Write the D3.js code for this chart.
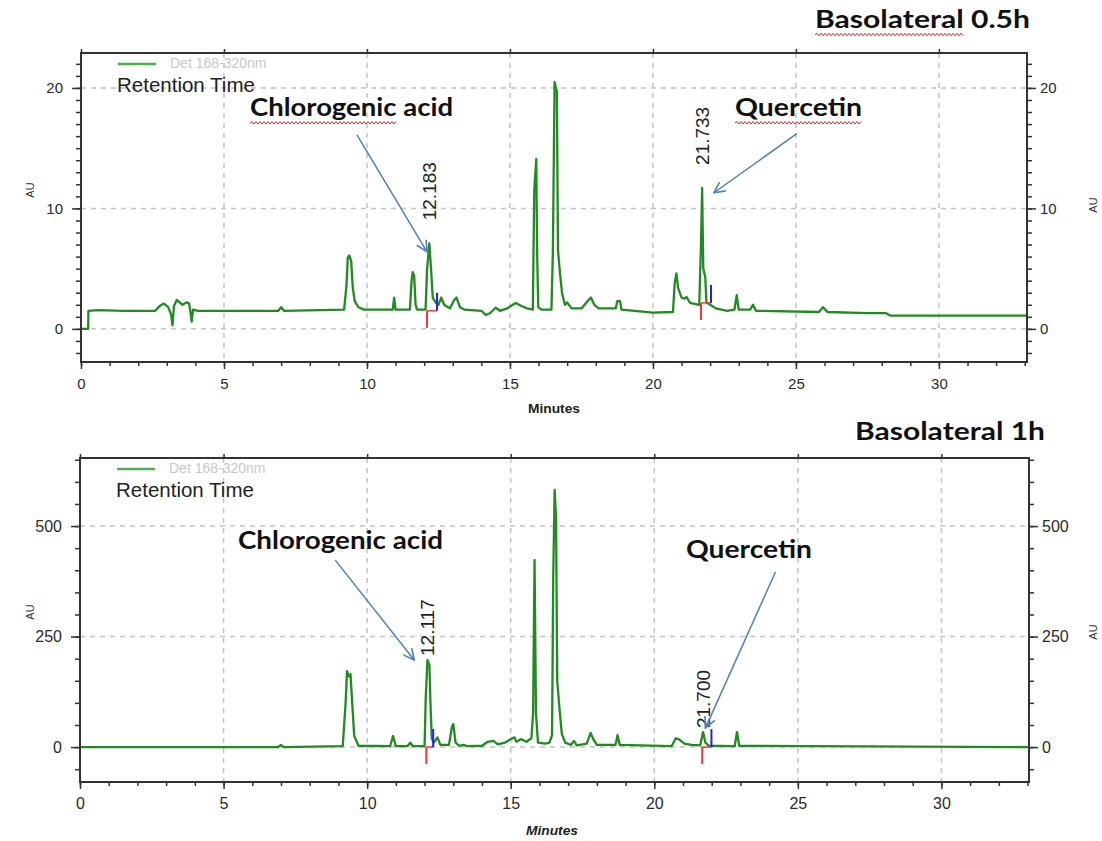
<!DOCTYPE html>
<html>
<head>
<meta charset="utf-8">
<script src="https://cdn.jsdelivr.net/npm/d3@7"></script>
<style>
  body { margin: 0; background: #fff; }
  svg { display: block; }
</style>
</head>
<body>
<script>
// chromatogram traces, [minutes, AU]
const trace05 = [
  [0.00, 0.0], [0.25, 0.0], [0.26, 1.5], [0.6, 1.55], [1.5, 1.5], [2.6, 1.5], [2.75, 1.9], [2.9, 2.1],
  [3.05, 1.8], [3.15, 1.2], [3.2, 0.3], [3.25, 1.9], [3.35, 2.4], [3.45, 2.2], [3.55, 2.0], [3.7, 2.2],
  [3.78, 2.1], [3.84, 1.2], [3.87, 0.6], [3.92, 1.6], [4.1, 1.5], [6.9, 1.5], [7.0, 1.8], [7.1, 1.5],
  [9.2, 1.6], [9.28, 3.5], [9.33, 5.9], [9.38, 6.1], [9.45, 5.6], [9.5, 3.5], [9.57, 2.3], [9.7, 1.8],
  [9.9, 1.6], [10.9, 1.6], [10.95, 2.6], [11.0, 1.6], [11.5, 1.6], [11.56, 4.0], [11.6, 4.7], [11.65, 4.4],
  [11.7, 2.0], [11.75, 1.6], [12.05, 1.6], [12.1, 4.9], [12.18, 7.1], [12.24, 5.0], [12.3, 2.6], [12.4, 2.2],
  [12.5, 2.0], [12.6, 2.6], [12.7, 2.0], [12.9, 1.7], [13.05, 2.4], [13.13, 2.6], [13.25, 1.8], [13.4, 1.6],
  [14.0, 1.5], [14.15, 1.15], [14.3, 1.3], [14.5, 1.75], [14.65, 1.5], [14.9, 1.7], [15.2, 2.15], [15.4, 1.9],
  [15.6, 1.7], [15.8, 1.6], [15.85, 11.5], [15.92, 14.1], [15.95, 6.3], [15.99, 1.8], [16.1, 1.6], [16.45, 1.6],
  [16.5, 6.3], [16.56, 20.5], [16.64, 19.7], [16.68, 6.5], [16.75, 4.6], [16.82, 3.0], [16.92, 2.0], [17.0, 2.2],
  [17.15, 1.7], [17.5, 1.7], [17.75, 2.4], [17.83, 2.6], [17.95, 2.0], [18.1, 1.7], [18.7, 1.7], [18.75, 2.3],
  [18.85, 2.3], [18.9, 1.6], [20.0, 1.35], [20.7, 1.4], [20.76, 3.8], [20.82, 4.6], [20.88, 3.4], [21.0, 2.6],
  [21.1, 2.5], [21.17, 2.65], [21.3, 2.15], [21.62, 2.0], [21.68, 7.0], [21.72, 11.7], [21.76, 5.0], [21.83, 4.3],
  [21.87, 2.2], [22.0, 2.0], [22.2, 1.7], [22.6, 1.5], [22.85, 1.6], [22.93, 2.8], [23.0, 1.6], [23.4, 1.6],
  [23.5, 2.0], [23.6, 1.5], [25.8, 1.4], [25.95, 1.8], [26.1, 1.4], [27.5, 1.3], [28.15, 1.3], [28.3, 1.1],
  [33.1, 1.1]
];

const trace1h = [
  [0, 0], [6.9, 0], [7.0, 5], [7.1, 0], [9.15, 2], [9.25, 100], [9.3, 172], [9.36, 160], [9.42, 165],
  [9.48, 100], [9.55, 25], [9.7, 3], [10.8, 2], [10.9, 25], [11.0, 2], [11.4, 2], [11.5, 10], [11.6, 2],
  [12.0, 2], [12.04, 110], [12.1, 197], [12.17, 185], [12.2, 110], [12.25, 20], [12.32, 10], [12.45, 22],
  [12.55, 5], [12.85, 5], [12.95, 45], [13.0, 52], [13.08, 10], [13.2, 3], [13.35, 5], [13.5, 2], [14.0, 3],
  [14.2, 12], [14.4, 14], [14.55, 6], [14.8, 10], [15.0, 18], [15.13, 22], [15.2, 12], [15.35, 18], [15.55, 12],
  [15.72, 20], [15.78, 77], [15.83, 423], [15.88, 77], [15.95, 10], [16.2, 8], [16.35, 10], [16.44, 27],
  [16.48, 380], [16.53, 582], [16.58, 515], [16.62, 150], [16.7, 86], [16.78, 30], [16.9, 10], [17.1, 5],
  [17.2, 14], [17.3, 4], [17.65, 8], [17.78, 32], [17.9, 15], [18.0, 5], [18.65, 5], [18.72, 27], [18.8, 5],
  [20.6, 2], [20.75, 20], [20.85, 18], [21.05, 8], [21.3, 5], [21.6, 4], [21.7, 34], [21.78, 10], [21.9, 3],
  [22.8, 2], [22.88, 34], [22.96, 3], [33.05, 0]
];

const xTicks = [0, 5, 10, 15, 20, 25, 30];
const yTicks05 = [0, 10, 20];
const yTicks1h = [0, 250, 500];

// integration marks: [start, end, baseline AU]
const marks05 = [[12.10, 12.45, 1.5], [21.68, 22.03, 2.15]];
const marks1h = [[12.06, 12.30, 0], [21.67, 21.99, 0]];

// retention time labels
const peaks05 = [[12.183, '12.183'], [21.733, '21.733']];
const peaks1h = [[12.117, '12.117'], [21.700, '21.700']];

const compounds = ['Chlorogenic acid', 'Quercetin'];
const titles = ['Basolateral 0.5h', 'Basolateral 1h'];
const legendText = 'Det 168-320nm';

const panels = [
  {
    title: titles[0], trace: trace05, yTicks: yTicks05, yStep: 1, marks: marks05, peaks: peaks05,
    box: { left: 81, right: 1027, top: 53, bottom: 362 }, xMax: 33.08, yDomain: [-2.75, 22.9],
    tickFont: 15, xPad: 9, peakGap: 23, minutesY: 413, minutesX: 528, italic: false,
    titlePos: [815, 28, 215], wavyTitle: true,
    notePos: [[250, 116, 203], [735, 116, 127]], wavyNotes: true,
    arrows: [[[9.65, 16.1], [12.1, 6.4]], [[25.03, 16.2], [22.13, 11.3]]],
    auY: 190, auRY: 205
  },
  {
    title: titles[1], trace: trace1h, yTicks: yTicks1h, yStep: 50, marks: marks1h, peaks: peaks1h,
    box: { left: 80, right: 1029, top: 458, bottom: 782 }, xMax: 33.05, yDomain: [-79, 654],
    tickFont: 16, xPad: 9, peakGap: 4, minutesY: 835, minutesX: 526, italic: true,
    titlePos: [855, 440, 190], wavyTitle: false,
    notePos: [[238, 549, 205], [686, 558, 126]], wavyNotes: false,
    arrows: [[[8.89, 423], [11.64, 197]], [[24.22, 396], [21.78, 43]]],
    auY: 612, auRY: 632
  }
];

const font = '"Liberation Sans", Arial, sans-serif';
const boldFont = 'Lato, "Open Sans", sans-serif';

const svg = d3.select('body').append('svg')
  .attr('width', 1102)
  .attr('height', 841)
  .style('font-family', font);

const defs = svg.append('defs');
defs.append('marker')
  .attr('id', 'arrow')
  .attr('viewBox', '0 0 12 12')
  .attr('refX', 11).attr('refY', 6)
  .attr('markerWidth', 13).attr('markerHeight', 13)
  .attr('markerUnits', 'userSpaceOnUse')
  .attr('orient', 'auto')
  .append('path')
  .attr('d', 'M1,1 L11,6 L1,11')
  .attr('fill', 'none')
  .attr('stroke', '#4f81bd')
  .attr('stroke-width', 1.5);

function wavy(x0, x1, y) {
  let d = `M${x0},${y}`;
  let up = true;
  for (let xx = x0 + 2; xx <= x1; xx += 2) {
    d += ` L${xx},${up ? y - 1.5 : y + 1}`;
    up = !up;
  }
  return d;
}

function boldText(g, txt, pos, underline, size) {
  const t = g.append('text')
    .attr('x', pos[0]).attr('y', pos[1])
    .attr('textLength', pos[2]).attr('lengthAdjust', 'spacingAndGlyphs')
    .style('font-family', boldFont).style('font-weight', 'bold').style('font-size', size + 'px')
    .attr('fill', '#111')
    .text(txt);
  if (underline) {
    const n = txt.indexOf(' ') > 0 ? txt.indexOf(' ') : txt.length;
    const w = t.node().getSubStringLength(0, n);
    g.append('path')
      .attr('d', wavy(pos[0], pos[0] + w, pos[1] + size * 0.28))
      .attr('fill', 'none').attr('stroke', '#e02020').attr('stroke-width', 1);
  }
}

function drawPanel(p, i) {
  const b = p.box;
  const g = svg.append('g');
  const x = d3.scaleLinear().domain([0, p.xMax]).range([b.left, b.right]);
  const y = d3.scaleLinear().domain(p.yDomain).range([b.bottom, b.top]);

  defs.append('clipPath').attr('id', 'clip' + i).append('rect')
    .attr('x', b.left).attr('y', b.top)
    .attr('width', b.right - b.left).attr('height', b.bottom - b.top);

  // dashed grid
  const grid = g.append('g');
  grid.selectAll('.gx').data(xTicks.filter(d => d > 0)).join('line')
    .attr('x1', d => x(d)).attr('x2', d => x(d))
    .attr('y1', b.top).attr('y2', b.bottom);
  grid.selectAll('.gy').data(p.yTicks).join('line')
    .attr('x1', b.left).attr('x2', b.right)
    .attr('y1', d => y(d)).attr('y2', d => y(d));
  grid.selectAll('line')
    .attr('stroke', '#c4c4c4').attr('stroke-width', 1.5).attr('stroke-dasharray', '5,5');

  const tickStyle = sel => {
    sel.select('.domain').remove();
    sel.selectAll('line').attr('stroke', '#333').attr('stroke-width', 1.5);
    sel.selectAll('text').attr('fill', '#2a2a2a')
      .style('font-size', p.tickFont + 'px').style('font-family', font);
  };

  const minorX = d3.range(0, Math.floor(p.xMax) + 1);
  const minorY = d3.range(Math.ceil(p.yDomain[0] / p.yStep) * p.yStep, p.yDomain[1], p.yStep);

  g.append('g').attr('transform', `translate(0,${b.bottom})`)
    .call(d3.axisBottom(x).tickValues(minorX).tickSize(4).tickFormat('')).call(tickStyle);
  g.append('g').attr('transform', `translate(0,${b.bottom})`)
    .call(d3.axisBottom(x).tickValues(xTicks).tickSize(7).tickPadding(p.xPad).tickFormat(d3.format('d')))
    .call(tickStyle);
  g.append('g').attr('transform', `translate(0,${b.top})`)
    .call(d3.axisTop(x).tickValues(xTicks).tickSize(4).tickFormat('')).call(tickStyle);

  g.append('g').attr('transform', `translate(${b.left},0)`)
    .call(d3.axisLeft(y).tickValues(minorY).tickSize(5).tickFormat('')).call(tickStyle);
  g.append('g').attr('transform', `translate(${b.left},0)`)
    .call(d3.axisLeft(y).tickValues(p.yTicks).tickSize(9).tickPadding(9).tickFormat(d3.format('d')))
    .call(tickStyle);
  g.append('g').attr('transform', `translate(${b.right},0)`)
    .call(d3.axisRight(y).tickValues(minorY).tickSize(5).tickFormat('')).call(tickStyle);
  g.append('g').attr('transform', `translate(${b.right},0)`)
    .call(d3.axisRight(y).tickValues(p.yTicks).tickSize(9).tickPadding(4).tickFormat(d3.format('d')))
    .call(tickStyle);

  // trace
  g.append('path')
    .datum(p.trace)
    .attr('clip-path', `url(#clip${i})`)
    .attr('fill', 'none')
    .attr('stroke', '#1e8c1e')
    .attr('stroke-width', 2.3)
    .attr('stroke-linejoin', 'round')
    .attr('d', d3.line().x(d => x(d[0])).y(d => y(d[1])));

  // integration marks
  p.marks.forEach(([s, e, base]) => {
    const yb = y(base);
    g.append('line').attr('x1', x(s)).attr('x2', x(e)).attr('y1', yb).attr('y2', yb)
      .attr('stroke', '#ff3030').attr('stroke-width', 1.5);
    g.append('line').attr('x1', x(s)).attr('x2', x(s)).attr('y1', yb).attr('y2', yb + 17)
      .attr('stroke', '#ff3030').attr('stroke-width', 2);
    g.append('line').attr('x1', x(e)).attr('x2', x(e)).attr('y1', yb - 18).attr('y2', yb)
      .attr('stroke', '#2020ff').attr('stroke-width', 2);
  });

  // retention time labels
  p.peaks.forEach(([rt, txt]) => {
    const top = d3.max(p.trace.filter(d => Math.abs(d[0] - rt) < 0.1), d => d[1]);
    g.append('text')
      .attr('transform', `translate(${x(rt)},${y(top) - p.peakGap}) rotate(-90)`)
      .attr('dominant-baseline', 'central')
      .attr('fill', '#222')
      .style('font-size', '19px')
      .text(txt);
  });

  // frame
  g.append('rect')
    .attr('x', b.left).attr('y', b.top)
    .attr('width', b.right - b.left).attr('height', b.bottom - b.top)
    .attr('fill', 'none').attr('stroke', '#333').attr('stroke-width', 2);

  // legend
  g.append('line')
    .attr('x1', b.left + 37).attr('x2', b.left + 75)
    .attr('y1', b.top + 11).attr('y2', b.top + 11)
    .attr('stroke', '#4caf50').attr('stroke-width', 2.5);
  g.append('text')
    .attr('x', b.left + 89).attr('y', b.top + 15)
    .attr('fill', '#c8c8c8').style('font-size', '14px')
    .text(legendText);
  g.append('text')
    .attr('x', b.left + 36).attr('y', b.top + 39)
    .attr('fill', '#222').style('font-size', '20.5px')
    .text('Retention Time');

  // axis titles
  g.append('text')
    .attr('x', p.minutesX).attr('y', p.minutesY)
    .attr('textLength', 52).attr('lengthAdjust', 'spacingAndGlyphs')
    .style('font-size', '13px').style('font-weight', 'bold')
    .style('font-style', p.italic ? 'italic' : 'normal')
    .attr('fill', '#222')
    .text('Minutes');
  [[30, p.auY], [1093, p.auRY]].forEach(([ax, ay]) => {
    g.append('text')
      .attr('transform', `translate(${ax},${ay}) rotate(-90)`)
      .attr('text-anchor', 'middle').attr('dominant-baseline', 'central')
      .style('font-size', '11px').attr('fill', '#333')
      .text('AU');
  });

  // compound names and arrows
  compounds.forEach((c, k) => boldText(g, c, p.notePos[k], p.wavyNotes, 25));
  p.arrows.forEach(([from, to]) => {
    g.append('line')
      .attr('x1', x(from[0])).attr('y1', y(from[1]))
      .attr('x2', x(to[0])).attr('y2', y(to[1]))
      .attr('stroke', '#4f81bd').attr('stroke-width', 1.5)
      .attr('marker-end', 'url(#arrow)');
  });

  boldText(svg, p.title, p.titlePos, p.wavyTitle, 24);
}

panels.forEach((p, i) => drawPanel(p, i));
</script>
</body>
</html>
